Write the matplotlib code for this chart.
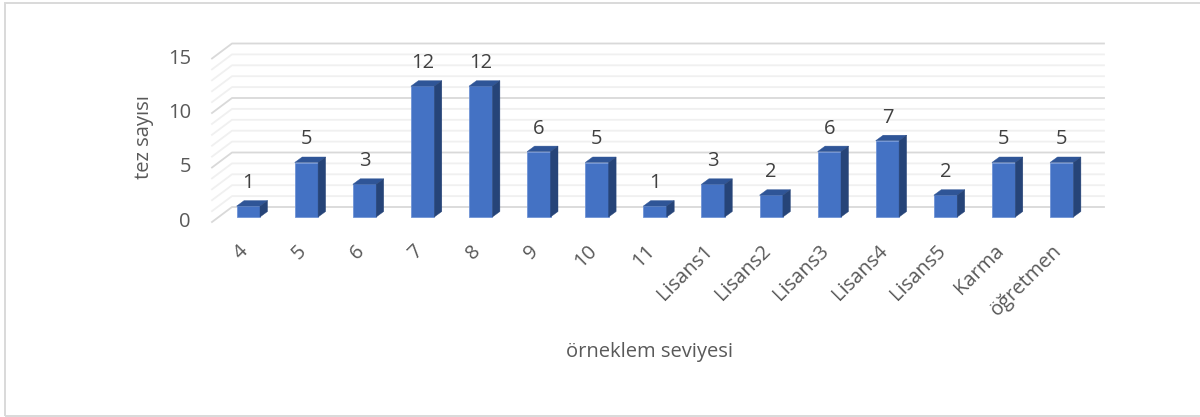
import matplotlib
matplotlib.use("Agg")
import matplotlib.pyplot as plt
from matplotlib.patches import Polygon, Rectangle

plt.rcParams['font.family'] = ['Open Sans', 'DejaVu Sans']

FIG_W = 1200
FIG_H = 417

categories = ['4', '5', '6', '7', '8', '9', '10', '11', 'Lisans1', 'Lisans2',
              'Lisans3', 'Lisans4', 'Lisans5', 'Karma', 'öğretmen']
values = [1, 5, 3, 12, 12, 6, 5, 1, 3, 2, 6, 7, 2, 5, 5]
y_major = [0, 5, 10, 15]
y_minor = [1, 2, 3, 4, 6, 7, 8, 9, 11, 12, 13, 14]

BLUE_FRONT = '#4472c4'
BLUE_TOP = '#2f5597'
BLUE_SIDE = '#264478'
TEXT_SIZE = 14.5

# pixel scale of the axes
X0, X_STEP = 248.3, 58.1
Y0, Y_STEP = 217.0, 10.9
x_left, x_right = -0.5, 14.5

fig = plt.figure(figsize=(FIG_W / 100, FIG_H / 100), dpi=100)
left = X0 + x_left * X_STEP
width = (x_right - x_left) * X_STEP
ax = fig.add_axes([left / FIG_W, 1 - Y0 / FIG_H, width / FIG_W, 15 * Y_STEP / FIG_H])
ax.set_xlim(x_left, x_right)
ax.set_ylim(0, 15)
ax.axis('off')

# depth of the 3d look, in data units
bar_half = 11.7 / X_STEP
bar_dx = 7.5 / X_STEP
bar_dy = 5.5 / Y_STEP
wall_x0 = (232 - X0) / X_STEP
wall_x1 = (1104 - X0) / X_STEP
wall_dy = 10 / Y_STEP
front_x = (212 - X0) / X_STEP
front_dy = -5 / Y_STEP


def grid_line(v, color, lw):
    ax.plot([front_x, wall_x0, wall_x1], [v + front_dy, v + wall_dy, v + wall_dy],
            color=color, lw=lw, clip_on=False, zorder=1, solid_joinstyle='round')


for v in y_minor:
    grid_line(v, '#f0f0f0', 1.3)
for v in y_major:
    grid_line(v, '#d9d9d9', 1.3)

for i, val in enumerate(values):
    l = i - bar_half
    r = i + bar_half
    ax.add_patch(Rectangle((l, 0), r - l, val, fc=BLUE_FRONT, ec='#6f93d6', lw=0.6,
                           clip_on=False, zorder=3))
    ax.add_patch(Polygon([(l, val), (l + bar_dx, val + bar_dy), (r + bar_dx, val + bar_dy), (r, val)],
                         fc=BLUE_TOP, ec=BLUE_TOP, lw=0.3, clip_on=False, zorder=3))
    ax.add_patch(Polygon([(r, 0), (r + bar_dx, bar_dy), (r + bar_dx, val + bar_dy), (r, val)],
                         fc=BLUE_SIDE, ec=BLUE_SIDE, lw=0.3, clip_on=False, zorder=3))
    ax.annotate(str(val), (i, val), xytext=(0, 18), textcoords='offset pixels', ha='center',
                va='baseline', fontsize=TEXT_SIZE, color='#404040', annotation_clip=False, zorder=4)
    ax.annotate(categories[i], (i, 0), xytext=(-10, -24), textcoords='offset pixels', ha='right',
                va='top', rotation=45, rotation_mode='anchor', fontsize=TEXT_SIZE, color='#595959',
                annotation_clip=False)

for v in y_major:
    ax.annotate(str(v), (front_x, v + front_dy), xytext=(-21, 0), textcoords='offset pixels',
                ha='right', va='center', fontsize=TEXT_SIZE, color='#595959', annotation_clip=False)

fig.text(144 / FIG_W, 1 - 137 / FIG_H, 'tez sayısı', rotation=90, ha='center', va='center',
         fontsize=TEXT_SIZE, color='#595959')
fig.text(649 / FIG_W, 1 - 352 / FIG_H, 'örneklem seviyesi', ha='center', va='center',
         fontsize=TEXT_SIZE, color='#595959')

# chart frame, cut off at the right edge of the picture
fig.add_artist(Rectangle((5 / FIG_W, 1 - 416 / FIG_H), 1205 / FIG_W, 413 / FIG_H,
                         transform=fig.transFigure, fc='none', ec='#d9d9d9', lw=1.4))

fig.savefig('out.png', dpi=100)
